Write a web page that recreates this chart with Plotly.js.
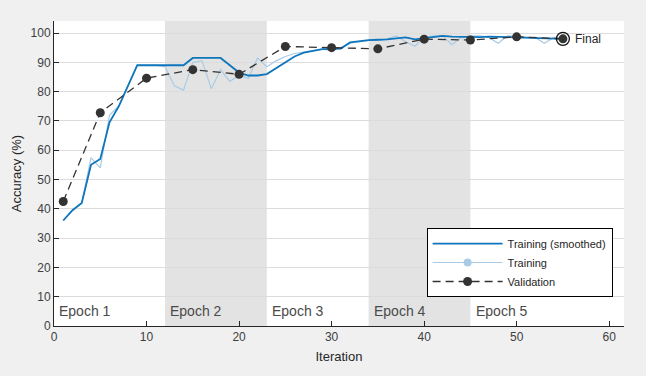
<!DOCTYPE html>
<html>
<head>
<meta charset="utf-8">
<script src="https://cdn.plot.ly/plotly-3.0.1.min.js"></script>
<style>
html,body{margin:0;padding:0;background:#f0f0f0;}
#chart{width:646px;height:376px;}
</style>
</head>
<body>
<div id="chart"></div>
<script>
// ---- data ----
const iterations = [1,2,3,4,5,6,7,8,9,10,11,12,13,14,15,16,17,18,19,20,21,22,23,24,25,26,27,28,29,30,31,32,33,34,35,36,37,38,39,40,41,42,43,44,45,46,47,48,49,50,51,52,53,54,55];
const trainingRaw = [36,39.5,42,57.5,54,72,75,82,89,89,89,88.5,82,80.5,90,90.5,81,87.5,83.5,85.5,84.5,91.5,88.5,90.5,92,93,93.5,94,94.5,94,95,96.5,97,97.5,97.5,98,99,97,95.5,98.5,99,99,96,98.5,99,99,98.5,96.5,99,99,98.5,98.5,96.5,98.5,98];
const trainingSmoothed = [36,39.5,42,55,57,69.5,75,82,89,89,89,89,89,89,91.5,91.5,91.5,91.5,89,86.5,85.5,85.5,86,88,90,92,93.3,94,94.5,94.6,94.7,96.8,97.2,97.6,97.7,97.8,98.2,98.5,97.8,98.2,98.6,99,98.8,98.7,98.5,98.6,98.8,98.7,98.5,98.3,98.2,98.2,98,98,98];
const validationIter = [1,5,10,15,20,25,30,35,40,45,50,55];
const validationAcc = [42.5,72.8,84.6,87.5,85.9,95.4,95.0,94.6,97.9,97.6,98.7,98.0];
const epochLabels = ["Epoch 1","Epoch 2","Epoch 3","Epoch 4","Epoch 5"];
const epochStarts = [0,12,23,34,45];
const epochEnds = [12,23,34,45,56];
const finalIter = [55];
const finalAcc = [98.0];
const xTicks = [0,10,20,30,40,50,60];
const yTicks = [0,10,20,30,40,50,60,70,80,90,100];

const FONT = "'Liberation Sans', Arial, Helvetica, sans-serif";

const traces = [
  {x: iterations, y: trainingRaw, mode:'lines', line:{color:'#a9cbe6', width:1.2}, showlegend:false, hoverinfo:'skip'},
  {x: iterations, y: trainingSmoothed, mode:'lines', name:'Training (smoothed)', line:{color:'#0f75bc', width:1.8}},
  {x:[null], y:[null], mode:'lines+markers', name:'Training', line:{color:'#a9cbe6', width:1.2}, marker:{color:'#a9cbe6', size:8}},
  {x: validationIter, y: validationAcc, mode:'lines+markers', name:'Validation', line:{color:'#333333', width:1.3, dash:'8px,5px'}, marker:{color:'#333333', size:9}},
  {x: finalIter, y: finalAcc, mode:'markers', showlegend:false, marker:{symbol:'circle-open', size:13, color:'#111111', line:{width:1.3, color:'#111111'}}},
];

const shapes = [];
const annotations = [];
epochStarts.forEach((s,i)=>{
  if (i % 2 === 1) {
    shapes.push({type:'rect', xref:'x', yref:'paper', x0:s, x1:epochEnds[i], y0:0, y1:1, fillcolor:'#e3e3e3', line:{width:0}, layer:'below'});
  }
  annotations.push({x:s+0.35, y:5, xref:'x', yref:'y', text:epochLabels[i], showarrow:false, xanchor:'left', yanchor:'middle', font:{family:FONT, size:14, color:'#4a4a4a'}});
});
annotations.push({x:finalIter[0], y:finalAcc[0], xref:'x', yref:'y', text:'Final', showarrow:false, xanchor:'left', yanchor:'middle', xshift:10, font:{family:FONT, size:12, color:'#262626'}});

const layout = {
  width:646, height:376,
  paper_bgcolor:'#f0f0f0', plot_bgcolor:'#ffffff',
  margin:{l:54, r:22, t:21, b:50},
  font:{family:FONT, size:12, color:'#404040'},
  xaxis:{range:[0,61.6], tickvals:xTicks, ticks:'inside', ticklen:5, tickcolor:'#262626', showgrid:false, zeroline:false, showline:true, linecolor:'#262626', linewidth:1, tickfont:{size:12, color:'#404040'}, title:{text:'Iteration', font:{size:13, color:'#262626'}, standoff:8}},
  yaxis:{range:[0,104.1], tickvals:yTicks, ticks:'inside', ticklen:5, tickcolor:'#262626', showgrid:true, gridcolor:'#dcdcdc', gridwidth:1, zeroline:false, showline:true, linecolor:'#262626', linewidth:1, tickfont:{size:12, color:'#404040'}, title:{text:'Accuracy (%)', font:{size:13, color:'#262626'}, standoff:6}},
  legend:{x:0.98, y:0.095, xanchor:'right', yanchor:'bottom', bgcolor:'#ffffff', bordercolor:'#000000', borderwidth:1, font:{size:11, color:'#262626'}, itemwidth:70, tracegroupgap:0},
  shapes:shapes,
  annotations:annotations,
  showlegend:true
};

Plotly.newPlot('chart', traces, layout, {displayModeBar:false, staticPlot:true});
</script>
</body>
</html>
